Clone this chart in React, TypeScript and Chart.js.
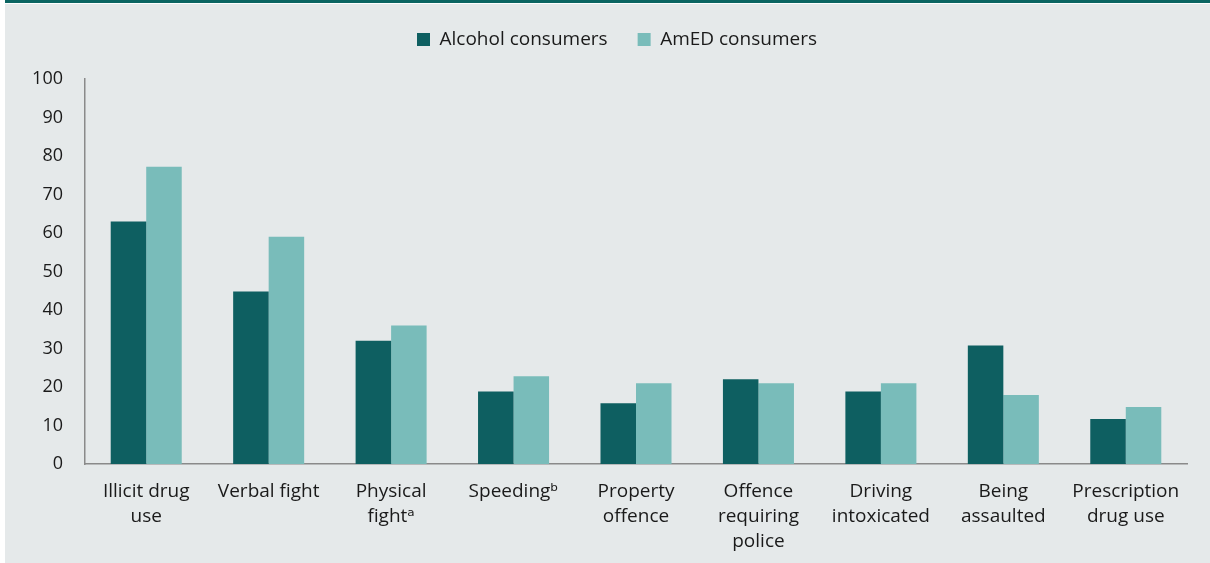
import React, { useEffect, useRef } from "react";
import { Chart, registerables, layouts } from "chart.js";

Chart.register(...registerables);

const categories: string[][] = [
  ["Illicit drug", "use"],
  ["Verbal fight"],
  ["Physical", "fightᵃ"],
  ["Speedingᵇ"],
  ["Property", "offence"],
  ["Offence", "requiring", "police"],
  ["Driving", "intoxicated"],
  ["Being", "assaulted"],
  ["Prescription", "drug use"],
];
const alcoholConsumers: number[] = [63, 44.8, 32, 18.8, 15.8, 22, 18.8, 30.8, 11.7];
const amedConsumers: number[] = [77.2, 59, 36, 22.8, 21, 21, 21, 17.9, 14.8];
const seriesNames: string[] = ["Alcohol consumers", "AmED consumers"];
const yTicks: number[] = [0, 10, 20, 30, 40, 50, 60, 70, 80, 90, 100];

const DARK = "#0e5f61";
const LIGHT = "#79bcba";
const TEXT = "#1a1a1a";
const FONT = "'Open Sans', 'DejaVu Sans', sans-serif";

function makeSpacer(position: string, size: number) {
  const horizontal = position === "top" || position === "bottom";
  return {
    position,
    weight: 0,
    fullSize: false,
    options: {},
    top: 0,
    left: 0,
    right: 0,
    bottom: 0,
    width: 0,
    height: 0,
    isHorizontal() {
      return horizontal;
    },
    update(maxWidth: number, maxHeight: number) {
      if (horizontal) {
        this.width = maxWidth;
        this.height = size;
      } else {
        this.width = size;
        this.height = maxHeight;
      }
    },
    draw() {},
  };
}

// empty layout boxes: one between legend and plot, one at the right edge
const spacerPlugin = {
  id: "layoutSpacers",
  beforeInit(chart: any) {
    layouts.addBox(chart, makeSpacer("top", 20) as any);
    layouts.addBox(chart, makeSpacer("right", 42) as any);
  },
};

export default function App() {
  const ref = useRef<HTMLCanvasElement | null>(null);

  useEffect(() => {
    if (!ref.current) return;
    const chart = new Chart(ref.current, {
      type: "bar",
      plugins: [spacerPlugin],
      data: {
        labels: categories,
        datasets: [
          {
            label: seriesNames[0],
            data: alcoholConsumers,
            backgroundColor: DARK,
            borderWidth: 0,
            categoryPercentage: 0.58,
            barPercentage: 1,
          },
          {
            label: seriesNames[1],
            data: amedConsumers,
            backgroundColor: LIGHT,
            borderWidth: 0,
            categoryPercentage: 0.58,
            barPercentage: 1,
          },
        ],
      },
      options: {
        animation: false,
        responsive: false,
        maintainAspectRatio: false,
        layout: { padding: { top: 0, left: 0, right: -19, bottom: 0 } },
        plugins: {
          legend: {
            position: "top",
            labels: {
              boxWidth: 13,
              boxHeight: 13,
              padding: 30,
              color: TEXT,
              font: { family: FONT, size: 19 },
            },
          },
          tooltip: { enabled: false },
        },
        scales: {
          x: {
            grid: { display: false, drawTicks: false },
            border: { display: true, color: "#8a8a8a", width: 1.5 },
            ticks: {
              color: TEXT,
              font: { family: FONT, size: 19, lineHeight: 1.32 },
              padding: 15,
              maxRotation: 0,
              autoSkip: false,
            },
            afterFit: (s: any) => {
              s.height = 99;
            },
          },
          y: {
            min: 0,
            max: 100,
            afterBuildTicks: (s: any) => {
              s.ticks = yTicks.map((v) => ({ value: v }));
            },
            grid: { display: false, drawTicks: false },
            border: { display: true, color: "#8a8a8a", width: 1.5 },
            ticks: {
              color: TEXT,
              font: { family: FONT, size: 18 },
              padding: 22,
            },
            afterFit: (s: any) => {
              s.width = 80;
            },
          },
        },
      },
    });
    return () => chart.destroy();
  }, []);

  return (
    <div style={{ position: "fixed", left: 0, top: 0, width: 1210, height: 563, background: "#ffffff" }}>
      <div
        style={{
          position: "absolute",
          left: 5,
          top: 0,
          width: 1205,
          height: 563,
          background: "#e5e9ea",
          borderTop: "3px solid #0b6562",
          boxSizing: "border-box",
        }}
      >
        <div style={{ position: "absolute", left: 0, top: 0, width: 1205, height: 1, background: "#ffffff" }} />
      </div>
      <canvas
        ref={ref}
        width={1205}
        height={563}
        style={{ position: "absolute", left: 5, top: 0, width: 1205, height: 563 }}
      />
    </div>
  );
}
